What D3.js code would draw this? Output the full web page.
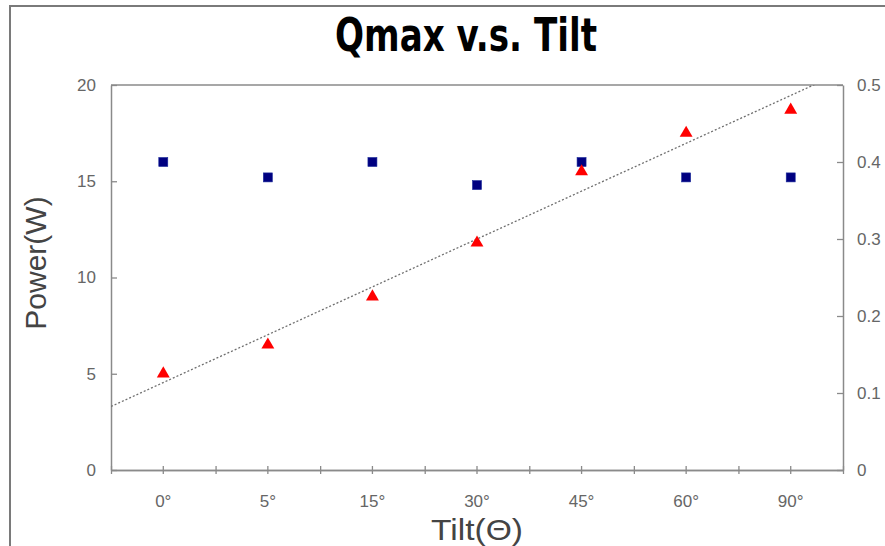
<!DOCTYPE html>
<html lang="en">
<head>
<meta charset="UTF-8" />
<title>Qmax v.s. Tilt</title>
<style>
  body { margin: 0; background: #fff; }
  svg { display: block; }
</style>
</head>
<body>
<script src="https://cdn.jsdelivr.net/npm/d3@7"></script>
<div id="app"></div>
<script>
// chart data
const categories = ["0°", "5°", "15°", "30°", "45°", "60°", "90°"];
const powerValues = [5, 6.5, 9, 11.8, 15.5, 17.5, 18.7];        // red triangles, left axis
const rightValues = [0.4, 0.38, 0.4, 0.37, 0.4, 0.38, 0.38];    // navy squares, right axis
const leftTicks = [0, 5, 10, 15, 20];
const rightTicks = [0, 0.1, 0.2, 0.3, 0.4, 0.5];

const w = 885, h = 546;
const plotLeft = 111, plotRight = 843, plotTop = 85, plotBottom = 470;
const axisColor = "#8a8a8a";
const labelColor = "#666";
const font = "'Liberation Sans', Arial, sans-serif";

const svg = d3.select("#app").append("svg")
  .attr("width", w).attr("height", h);

// outer frame (right and bottom edges fall off the picture)
svg.append("path")
  .attr("d", "M10," + (h + 10) + "V6H" + (w + 10))
  .attr("fill", "none").attr("stroke", "#7a7a7a").attr("stroke-width", 2);

// scales
const x = d3.scaleBand().domain(categories).range([plotLeft, plotRight]);
const xi = d3.scaleLinear().domain([0.5, categories.length + 0.5]).range([plotLeft, plotRight]);
const yL = d3.scaleLinear().domain([0, 20]).range([plotBottom, plotTop]);
const yR = d3.scaleLinear().domain([0, 0.5]).range([plotBottom, plotTop]);

// title
svg.append("text")
  .attr("x", 466).attr("y", 51)
  .attr("text-anchor", "middle")
  .attr("textLength", 262).attr("lengthAdjust", "spacingAndGlyphs")
  .style("font-family", "'DejaVu Sans Condensed', 'DejaVu Sans', sans-serif")
  .style("font-weight", "bold").style("font-size", "47px")
  .attr("fill", "#000")
  .text("Qmax v.s. Tilt");

// top border of plot
svg.append("line")
  .attr("x1", plotLeft).attr("x2", plotRight).attr("y1", plotTop).attr("y2", plotTop)
  .attr("stroke", axisColor).attr("stroke-width", 1.5);

// left axis
const gL = svg.append("g")
  .attr("transform", "translate(" + plotLeft + ",0)")
  .call(d3.axisLeft(yL).tickValues(leftTicks).tickSize(-6).tickSizeOuter(0).tickPadding(15));

// right axis
const gR = svg.append("g")
  .attr("transform", "translate(" + plotRight + ",0)")
  .call(d3.axisRight(yR).tickValues(rightTicks).tickSize(-6).tickSizeOuter(0).tickPadding(14)
    .tickFormat(d => d === 0 ? "0" : d3.format(".1f")(d)));

// bottom axis: labels at category centres, ticks at centres and band edges
const gB = svg.append("g")
  .attr("transform", "translate(0," + plotBottom + ")")
  .call(d3.axisBottom(x).tickSize(4).tickSizeOuter(0).tickPadding(21));
const gE = svg.append("g")
  .attr("transform", "translate(0," + plotBottom + ")")
  .call(d3.axisBottom(xi).tickValues(d3.range(0.5, categories.length + 1, 1)).tickSize(4).tickSizeOuter(0).tickFormat(""));
gB.selectAll(".tick line").attr("y1", -4);
gE.selectAll(".tick line").attr("y1", -4);

[gL, gR, gB, gE].forEach(g => {
  g.select(".domain").attr("stroke", axisColor).attr("stroke-width", 1.5);
  g.selectAll(".tick line").attr("stroke", axisColor).attr("stroke-width", 1.3);
  g.selectAll(".tick text")
    .attr("fill", labelColor)
    .style("font-family", font)
    .style("font-size", "17px");
});

// axis titles
svg.append("text")
  .attr("transform", "translate(46,263) rotate(-90)")
  .attr("text-anchor", "middle")
  .style("font-family", font).style("font-size", "30px")
  .attr("fill", "#444")
  .text("Power(W)");

svg.append("text")
  .attr("x", 477).attr("y", 540)
  .attr("text-anchor", "middle")
  .attr("textLength", 92).attr("lengthAdjust", "spacingAndGlyphs")
  .style("font-family", font).style("font-size", "30px")
  .attr("fill", "#444")
  .text("Tilt(\u0398)");

// linear trendline of the power series, clipped to the plot
const n = powerValues.length;
const xs = d3.range(1, n + 1);
const mx = d3.mean(xs), my = d3.mean(powerValues);
const slope = d3.sum(xs, (v, i) => (v - mx) * (powerValues[i] - my)) / d3.sum(xs, v => (v - mx) * (v - mx));
const intercept = my - slope * mx;

svg.append("clipPath").attr("id", "plotClip")
  .append("rect").attr("x", plotLeft).attr("y", plotTop).attr("width", plotRight - plotLeft).attr("height", plotBottom - plotTop);

svg.append("line")
  .attr("clip-path", "url(#plotClip)")
  .attr("x1", xi(0.5)).attr("y1", yL(intercept + slope * 0.5))
  .attr("x2", xi(n + 0.5)).attr("y2", yL(intercept + slope * (n + 0.5)))
  .attr("stroke", "#6f6f6f").attr("stroke-width", 1.3)
  .attr("stroke-dasharray", "2,2");

// navy squares (right axis)
svg.selectAll(".sq")
  .data(rightValues)
  .enter().append("rect")
  .attr("class", "sq")
  .attr("x", (d, i) => x(categories[i]) + x.bandwidth() / 2 - 4.5)
  .attr("y", d => yR(d) - 4.5)
  .attr("width", 9).attr("height", 9)
  .attr("fill", "#000080")
  .attr("stroke", "#1a2a9a").attr("stroke-width", 0.6);

// red triangles (left axis)
svg.selectAll(".tri")
  .data(powerValues)
  .enter().append("path")
  .attr("class", "tri")
  .attr("d", d3.symbol(d3.symbolTriangle, 72))
  .attr("transform", (d, i) => "translate(" + (x(categories[i]) + x.bandwidth() / 2) + "," + yL(d) + ")")
  .attr("fill", "#ff0000");
</script>
</body>
</html>
